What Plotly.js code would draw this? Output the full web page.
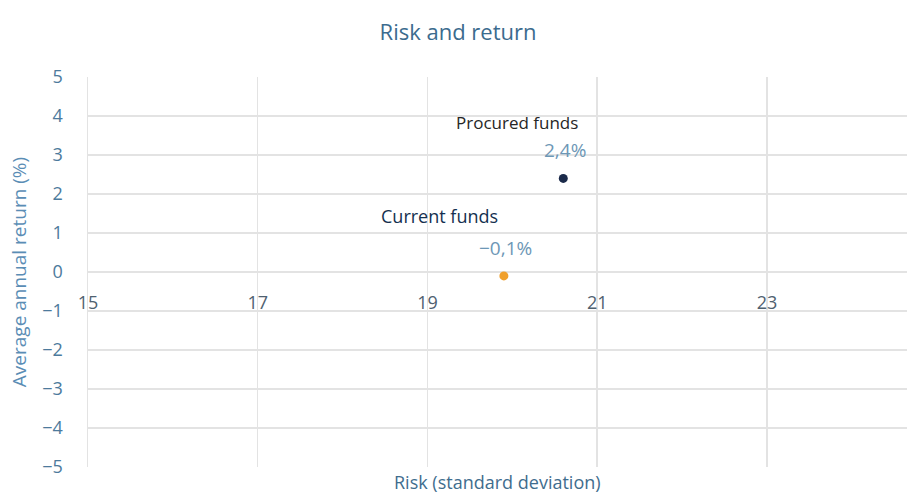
<!DOCTYPE html>
<html>
<head>
<meta charset="utf-8">
<script src="https://cdn.plot.ly/plotly-3.0.1.min.js"></script>
<style>
  html, body { margin: 0; padding: 0; background: #ffffff; }
  #chart { width: 907px; height: 493px; }
</style>
</head>
<body>
<div id="chart"></div>
<script>
// ---- data ----
const fundNames = ["Procured funds", "Current funds"];
const riskValues = [20.6, 19.9];      // standard deviation
const returnValues = [2.4, -0.1];     // average annual return (%)
const xTickValues = [15, 17, 19, 21, 23];
const yTickValues = [5, 4, 3, 2, 1, 0, -1, -2, -3, -4, -5];

// ---- styles ----
const pointColors = ["#1b2a4a", "#f0a02c"];
const nameColors = ["#262626", "#14304f"];
const nameSizes = [17, 18];
const nameShift = [[-46, 56], [-64, 60]];
const valueColor = "#6d97b6";
const gridColor = "#e3e3e3";
const FONT = "'Open Sans', Lato, sans-serif";

function fmt(v) {
  const s = Math.abs(v).toFixed(1).replace('.', ',') + '%';
  return (v < 0 ? '\u2212' : '') + s;
}

const traces = fundNames.map((n, i) => ({
  type: 'scatter',
  mode: 'markers',
  name: n,
  x: [riskValues[i]],
  y: [returnValues[i]],
  marker: { color: pointColors[i], size: 9 },
  hoverinfo: 'x+y+name'
}));

const annotations = [];
fundNames.forEach((n, i) => {
  annotations.push({
    x: riskValues[i], y: returnValues[i], xref: 'x', yref: 'y',
    text: fmt(returnValues[i]), showarrow: false,
    xshift: 2, yshift: 28,
    font: { family: FONT, size: 19, color: valueColor }
  });
  annotations.push({
    x: riskValues[i], y: returnValues[i], xref: 'x', yref: 'y',
    text: n, showarrow: false,
    xshift: nameShift[i][0], yshift: nameShift[i][1],
    font: { family: FONT, size: nameSizes[i], color: nameColors[i] }
  });
});
annotations.push({
  text: 'Risk (standard deviation)', showarrow: false,
  xref: 'paper', yref: 'paper', x: 0.5, y: 0, yshift: -15, yanchor: 'middle',
  font: { family: FONT, size: 18, color: '#3f6d8e' }
});

const layout = {
  width: 907, height: 493,
  paper_bgcolor: '#ffffff', plot_bgcolor: '#ffffff',
  margin: { l: 88, r: 0, t: 77, b: 26 },
  showlegend: false,
  font: { family: FONT },
  title: {
    text: 'Risk and return',
    xref: 'container', x: 0.505, xanchor: 'center',
    yref: 'container', y: 0.935, yanchor: 'middle',
    font: { family: FONT, size: 22, color: '#3b6b8e' }
  },
  xaxis: {
    range: [15, 24.65],
    tickmode: 'array', tickvals: xTickValues, ticktext: xTickValues.map(String),
    showgrid: true, gridcolor: gridColor, gridwidth: 1.5,
    zeroline: false, showline: false,
    anchor: 'free', position: 0.5,
    ticks: 'outside', ticklen: 0, ticklabelstandoff: 14,
    tickfont: { family: FONT, size: 18, color: '#4f6170' },
    fixedrange: true
  },
  yaxis: {
    range: [-5, 5],
    tickmode: 'array', tickvals: yTickValues,
    ticktext: yTickValues.map(v => v < 0 ? '\u2212' + Math.abs(v) : String(v)),
    showgrid: true, gridcolor: gridColor, gridwidth: 1.5,
    zeroline: true, zerolinecolor: gridColor, zerolinewidth: 1.5,
    showline: true, linecolor: gridColor, linewidth: 1.5,
    ticks: 'outside', ticklen: 0, ticklabelstandoff: 20,
    tickfont: { family: FONT, size: 18, color: '#4d7a9c' },
    title: { text: 'Average annual return (%)', standoff: 10,
             font: { family: FONT, size: 19, color: '#5a8db5' } },
    fixedrange: true
  },
  annotations: annotations
};

Plotly.newPlot('chart', traces, layout, { displayModeBar: false, staticPlot: true });
</script>
</body>
</html>
